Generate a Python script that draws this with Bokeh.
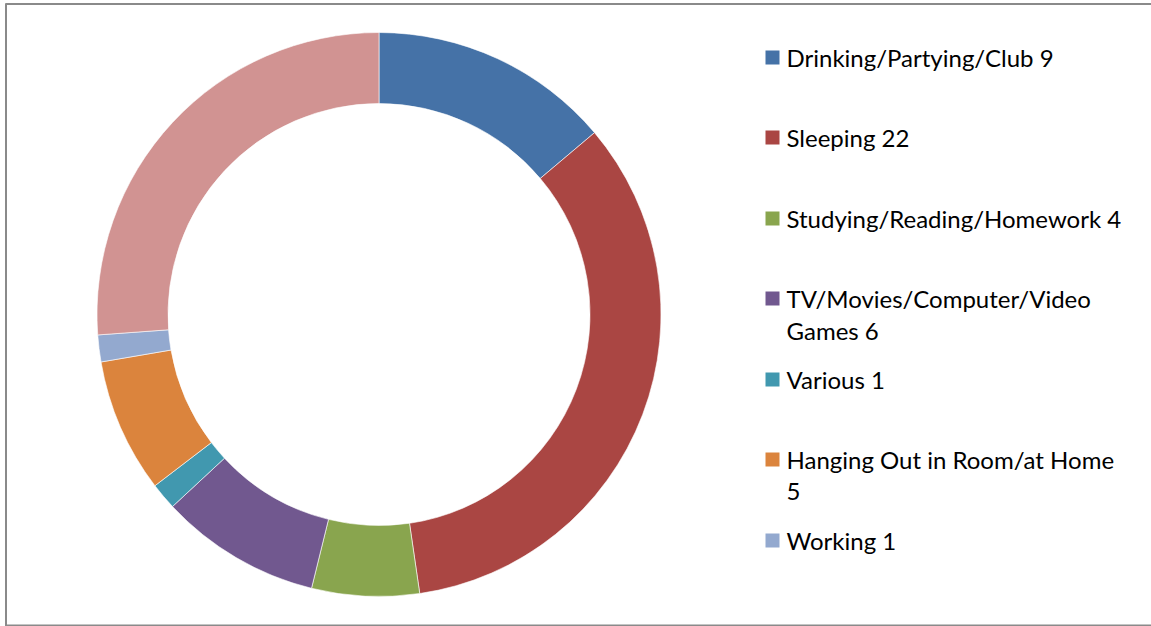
import math
from bokeh.plotting import figure
from bokeh.models import Range1d, ColumnDataSource
from bokeh.core.properties import value
from bokeh.embed import file_html
from bokeh.resources import INLINE

# ---- data ----
categories = ["Drinking/Partying/Club", "Sleeping", "Studying/Reading/Homework",
              "TV/Movies/Computer/Video Games", "Various", "Hanging Out in Room/at Home",
              "Working", "Other"]
values = [9, 22, 4, 6, 1, 5, 1, 17]
colors = ["#4572A7", "#AA4643", "#89A54E", "#71588F", "#4198AF", "#DB843D", "#93A9CF", "#D19392"]
# legend text as shown (wrapped), last category is cut off in the legend
legend_lines = [["Drinking/Partying/Club 9"], ["Sleeping 22"], ["Studying/Reading/Homework 4"],
                ["TV/Movies/Computer/Video", "Games 6"], ["Various 1"],
                ["Hanging Out in Room/at Home", "5"], ["Working 1"]]

W, H = 1151, 626
p = figure(width=W, height=H, output_backend="svg", toolbar_location=None,
           x_range=Range1d(0, W), y_range=Range1d(0, H), min_border=0)
p.axis.visible = False
p.grid.visible = False
p.outline_line_color = None
p.background_fill_color = "white"

def Y(py):
    return H - py

total = sum(values)
starts, ends = [], []
cum = 0
for v in values:
    starts.append(math.pi / 2 - cum / total * 2 * math.pi)
    cum += v
    ends.append(math.pi / 2 - cum / total * 2 * math.pi)

src = ColumnDataSource(dict(start=starts, end=ends, color=colors, cat=categories))
cx, cy = 378.5, Y(314)
p.annular_wedge(x=cx, y=cy, inner_radius=211, outer_radius=282, start_angle="start",
                end_angle="end", direction="clock", fill_color="color",
                line_color="white", line_width=0.6, source=src)

# legend
entry_y = [57, 137, 218, 298, 379, 459, 540]  # page y of first line
line_gap = 32
for i, lines in enumerate(legend_lines):
    y0 = Y(entry_y[i])
    p.rect(x=772, y=y0, width=14, height=14, fill_color=colors[i], line_color=None)
    for j, t in enumerate(lines):
        p.text(x=786, y=y0 - j * line_gap, text=[t], text_font=value("Lato"),
               text_font_size="24px", text_baseline="middle", text_align="left",
               text_color="#000000")

# frame border (left, top, bottom)
p.line(x=[5.5, 5.5], y=[Y(3), Y(626)], line_color="#8a8a8a", line_width=2)
p.line(x=[5, W], y=[Y(3.5), Y(3.5)], line_color="#8a8a8a", line_width=2)
p.line(x=[5, W], y=[Y(625), Y(625)], line_color="#8a8a8a", line_width=2)

open("out.html", "w").write(file_html(p, INLINE))
